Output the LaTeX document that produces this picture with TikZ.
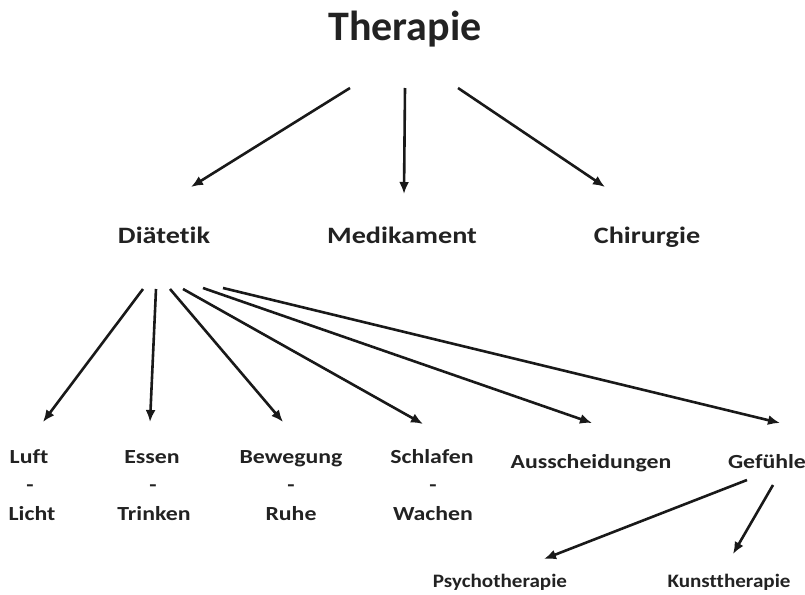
\documentclass[tikz,border=0pt]{standalone}
\usepackage{fontspec}
\setmainfont[Ligatures=NoCommon]{Carlito}
\newfontfamily\midfont[FakeStretch=1.2,Ligatures=NoCommon]{Carlito}
\newfontfamily\lowfont[FakeStretch=1.19,Ligatures=NoCommon]{Carlito}
\newfontfamily\smallfont[FakeStretch=1.11,Ligatures=NoCommon]{Carlito}
\usetikzlibrary{arrows.meta}
\definecolor{txt}{HTML}{222222}
\tikzset{
  lbl/.style={inner sep=0pt, anchor=base, text=txt, font=\lowfont\bfseries\fontsize{20}{22}\selectfont},
  mid/.style={lbl, font=\midfont\bfseries\fontsize{23.5}{26}\selectfont},
  big/.style={lbl, font=\bfseries\fontsize{42}{46}\selectfont},
  small/.style={lbl, font=\smallfont\bfseries\fontsize{19}{21}\selectfont},
  arr/.style={draw=black!90, line width=2.6pt, -{Latex[length=12pt,width=10pt]}}
}
\begin{document}
\begin{tikzpicture}[x=1pt,y=-1pt]
\useasboundingbox (0,0) rectangle (805,594);
% nodes
\node[big] (ther) at (405,41) {Therapie};
\node[mid] (diat) at (164,243) {Diätetik};
\node[mid] (medi) at (402,243) {Medikament};
\node[mid] (chir) at (647,243) {Chirurgie};
\node[lbl] (luft)  at (29,463) {Luft};
\node[lbl] (luftd) at (30,491.5) {-};
\node[lbl] (licht) at (32,520) {Licht};
\node[lbl] (essen) at (152,463) {Essen};
\node[lbl] (essend) at (153,491.5) {-};
\node[lbl] (trink) at (154,520) {Trinken};
\node[lbl] (beweg) at (291,463) {Bewegung};
\node[lbl] (bewegd) at (291,491.5) {-};
\node[lbl] (ruhe)  at (291,520) {Ruhe};
\node[lbl] (schl)  at (432,463) {Schlafen};
\node[lbl] (schld) at (433,491.5) {-};
\node[lbl] (wach)  at (433,520) {Wachen};
\node[lbl] (aussch) at (591,468) {Ausscheidungen};
\node[lbl] (gef)   at (767,468) {Gefühle};
\node[small] (psych) at (500,587) {Psychotherapie};
\node[small] (kunst) at (729,587) {Kunsttherapie};
% top arrows
\draw[arr] ([shift={(-55,47)}]ther.base) -- ([shift={(27,-56)}]diat.base);
\draw[arr] ([shift={(0,47)}]ther.base) -- ([shift={(2,-49)}]medi.base);
\draw[arr] ([shift={(53,47)}]ther.base) -- ([shift={(-42,-56)}]chir.base);
% Diätetik arrows
\draw[arr] ([shift={(-21,46)}]diat.base) -- ([shift={(14,-41)}]luft.base);
\draw[arr] ([shift={(-8,46)}]diat.base) -- ([shift={(-2,-41)}]essen.base);
\draw[arr] ([shift={(6,46)}]diat.base) -- ([shift={(-8,-41)}]beweg.base);
\draw[arr] ([shift={(19,46)}]diat.base) -- ([shift={(-9,-39)}]schl.base);
\draw[arr] ([shift={(39,45)}]diat.base) -- ([shift={(1,-45)}]aussch.base);
\draw[arr] ([shift={(59,45)}]diat.base) -- ([shift={(13,-45)}]gef.base);
% Gefühle arrows
\draw[arr] ([shift={(-20,12)}]gef.base) -- ([shift={(44,-28)}]psych.base);
\draw[arr] ([shift={(6,17)}]gef.base) -- ([shift={(4,-33)}]kunst.base);
\end{tikzpicture}
\end{document}
